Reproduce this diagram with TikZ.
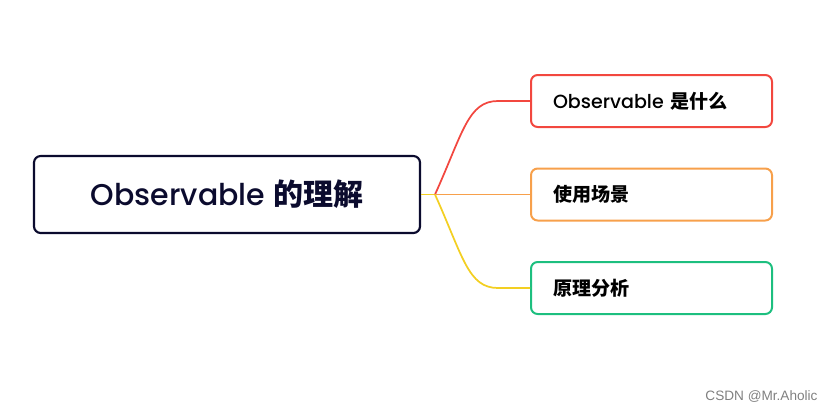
\documentclass[tikz,border=0pt]{standalone}
\usepackage{fontspec}
\setmainfont{Poppins Medium}
\newfontfamily\cjk{Noto Sans CJK SC}
\newfontfamily\marksans{Liberation Sans}
\usepackage{tikz}
\usetikzlibrary{positioning}

\definecolor{navy}{HTML}{0B0B2E}
\definecolor{lred}{HTML}{F2473F}
\definecolor{lorange}{HTML}{F7A04B}
\definecolor{lyellow}{HTML}{F3CF22}
\definecolor{lgreen}{HTML}{1DBF7F}

\tikzset{
	rootbox/.style={draw=navy, line width=1.6pt, rounded corners=5pt, minimum width=289.5pt, minimum height=57.75pt, text=navy, font=\fontsize{22.5}{26}\selectfont},
	leaf/.style={draw=#1, line width=1.5pt, rounded corners=5pt, minimum width=180.75pt, minimum height=39pt, text width=147.75pt, align=left, font=\fontsize{14.3}{17}\selectfont},
	branch/.style={draw=#1, line width=1.3pt}
}

\begin{document}
\begin{tikzpicture}[x=0.75pt, y=-0.75pt]
	\useasboundingbox (0,0) rectangle (834,412);
	\node[rootbox] (root) at (227,194.5) {Observable {\cjk\bfseries 的理解}};
	\coordinate (fork) at (435,194.5);
	\node[leaf=lred] (what) at (651.5,101) {Observable {\cjk\bfseries 是什么}};
	\node[leaf=lorange] (usage) at (651.5,194.5) {{\cjk\bfseries 使用场景}};
	\node[leaf=lgreen] (principle) at (651.5,288) {{\cjk\bfseries 原理分析}};
	
	\draw[branch=lyellow] (root.east) -- (fork);
	\draw[branch=lred] (fork) .. controls +(28,-62) and +(-30,0) .. ([xshift=-24]what.west) -- (what.west);
	\draw[branch=lorange] (fork) -- (usage.west);
	\draw[branch=lyellow] (fork) .. controls +(28,62) and +(-30,0) .. ([xshift=-24]principle.west) -- (principle.west);
	
	\node[text=gray, font=\marksans\fontsize{10.2}{12}\selectfont] (mark) at (761.5,396) {CSDN @Mr.Aholic};
\end{tikzpicture}
\end{document}
